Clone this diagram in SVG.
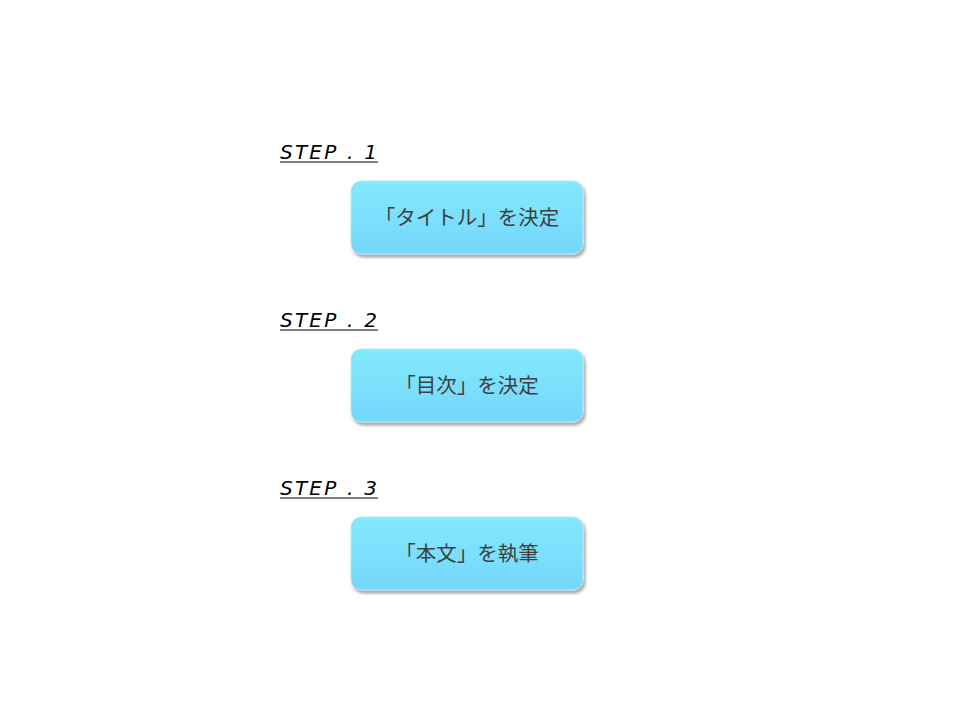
<svg xmlns="http://www.w3.org/2000/svg" width="960" height="720" viewBox="0 0 960 720">
<style>
.step{font-family:"DejaVu Sans","Noto Sans",sans-serif;font-size:20px;font-style:italic;fill:#000;}
.ul{stroke:#000;stroke-width:1.2;}
.box{fill:url(#g);stroke:#b8e6f4;stroke-width:1;filter:url(#sh);}
.lbl{font-family:"Noto Sans CJK JP","Noto Sans",sans-serif;font-size:20.5px;fill:#404040;text-anchor:middle;}
</style>
<defs>
<linearGradient id="g" x1="0" y1="0" x2="0" y2="1">
<stop offset="0" stop-color="#83e9fc"/>
<stop offset="1" stop-color="#74d6fc"/>
</linearGradient>
<filter id="sh" x="-10%" y="-10%" width="125%" height="140%">
<feGaussianBlur in="SourceAlpha" stdDeviation="1.5"/>
<feOffset dx="2" dy="2.5" result="b"/>
<feComponentTransfer><feFuncA type="linear" slope="0.35"/></feComponentTransfer>
<feMerge><feMergeNode/><feMergeNode in="SourceGraphic"/></feMerge>
</filter>
</defs>
<rect width="960" height="720" fill="#fff"/>
<g id="step1">
<text class="step" x="280" y="159" textLength="97">STEP . 1</text>
<line class="ul" x1="280" y1="162" x2="378" y2="162"/>
<rect class="box" x="351" y="181" width="232" height="73" rx="10"/>
<text class="lbl" x="467" y="225">「タイトル」を決定</text>
</g>
<g id="step2">
<text class="step" x="280" y="327" textLength="97">STEP . 2</text>
<line class="ul" x1="280" y1="330" x2="378" y2="330"/>
<rect class="box" x="351" y="349" width="232" height="73" rx="10"/>
<text class="lbl" x="467" y="393">「目次」を決定</text>
</g>
<g id="step3">
<text class="step" x="280" y="495" textLength="97">STEP . 3</text>
<line class="ul" x1="280" y1="498" x2="378" y2="498"/>
<rect class="box" x="351" y="517" width="232" height="73" rx="10"/>
<text class="lbl" x="467" y="561">「本文」を執筆</text>
</g>
<g id="connectors"></g>
</svg>
